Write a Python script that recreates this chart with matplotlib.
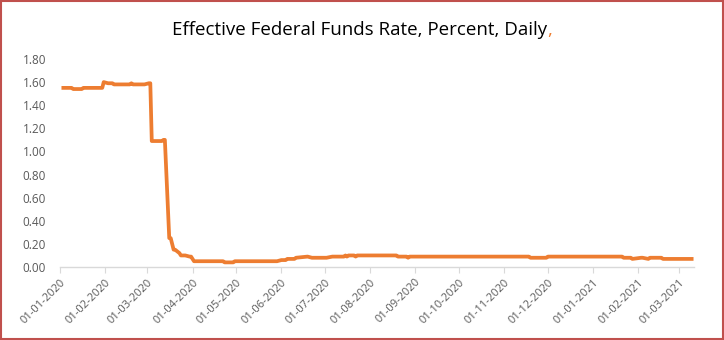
import matplotlib
matplotlib.use("Agg")
import matplotlib.pyplot as plt
from matplotlib.patches import Rectangle
import datetime as dt

# Effective Federal Funds Rate (percent), points at which the daily series changes
dates = [
    "2020-01-02", "2020-01-09", "2020-01-10", "2020-01-16", "2020-01-17", "2020-01-30",
    "2020-01-31", "2020-02-03", "2020-02-06", "2020-02-07", "2020-02-18", "2020-02-19",
    "2020-02-20", "2020-02-28", "2020-03-02", "2020-03-03", "2020-03-04", "2020-03-11",
    "2020-03-12", "2020-03-13", "2020-03-16", "2020-03-17", "2020-03-18", "2020-03-19",
    "2020-03-20", "2020-03-23", "2020-03-24", "2020-03-27", "2020-03-30", "2020-03-31",
    "2020-04-02", "2020-04-22", "2020-04-23", "2020-04-29", "2020-04-30", "2020-05-29",
    "2020-06-01", "2020-06-04", "2020-06-05", "2020-06-10", "2020-06-11", "2020-06-19",
    "2020-06-22", "2020-07-02", "2020-07-06", "2020-07-14", "2020-07-15", "2020-07-16",
    "2020-07-17", "2020-07-21", "2020-07-22", "2020-07-23", "2020-07-24", "2020-08-19",
    "2020-08-20", "2020-08-26", "2020-08-27", "2020-08-28", "2020-11-18", "2020-11-19",
    "2020-11-30", "2020-12-01", "2021-01-21", "2021-01-22", "2021-01-27", "2021-01-28",
    "2021-02-03", "2021-02-04", "2021-02-08", "2021-02-09", "2021-02-17", "2021-02-18",
    "2021-03-11",
]
rates = [
    1.55, 1.55, 1.54, 1.54, 1.55, 1.55,
    1.60, 1.59, 1.59, 1.58, 1.58, 1.59,
    1.58, 1.58, 1.59, 1.59, 1.09, 1.09,
    1.10, 1.10, 0.25, 0.25, 0.20, 0.15,
    0.15, 0.12, 0.10, 0.10, 0.09, 0.09,
    0.05, 0.05, 0.04, 0.04, 0.05, 0.05,
    0.06, 0.06, 0.07, 0.07, 0.08, 0.09,
    0.08, 0.08, 0.09, 0.09, 0.10, 0.09,
    0.10, 0.10, 0.09, 0.10, 0.10, 0.10,
    0.09, 0.09, 0.08, 0.09, 0.09, 0.08,
    0.08, 0.09, 0.09, 0.08, 0.08, 0.07,
    0.08, 0.08, 0.07, 0.08, 0.08, 0.07,
    0.07,
]
tick_dates = ["2020-%02d-01" % m for m in range(1, 13)] + ["2021-01-01", "2021-02-01", "2021-03-01"]
y_ticks = [0.0, 0.2, 0.4, 0.6, 0.8, 1.0, 1.2, 1.4, 1.6, 1.8]
title_text = "Effective Federal Funds Rate, Percent, Daily"

x = [dt.datetime.strptime(d, "%Y-%m-%d") for d in dates]
xt = [dt.datetime.strptime(d, "%Y-%m-%d") for d in tick_dates]

plt.rcParams['font.family'] = ['Open Sans', 'DejaVu Sans']

fig = plt.figure(figsize=(7.24, 3.40), dpi=100)
fig.patch.set_facecolor('white')
fig.add_artist(Rectangle((0.002, 0.003), 0.996, 0.994, transform=fig.transFigure,
                         fill=False, edgecolor='#C0504D', linewidth=1.5))

ax = fig.add_axes([0.0829, 0.2147, 0.876, 0.6118])
orange = '#ED7D31'
ax.plot(x, rates, color=orange, linewidth=2.7, solid_joinstyle='round', solid_capstyle='butt')

ax.set_ylim(0, 1.8)
ax.set_xlim(dt.datetime(2020, 1, 1), dt.datetime(2021, 3, 11, 12))
ax.set_yticks(y_ticks)
ax.set_yticklabels([f"{v:.2f}" for v in y_ticks])
ax.set_xticks(xt)
ax.set_xticklabels([d.strftime("%d-%m-%Y") for d in xt], rotation=45, ha='right',
                   rotation_mode='anchor')

for s in ['top', 'right', 'left']:
    ax.spines[s].set_visible(False)
ax.spines['bottom'].set_color('#D9D9D9')
ax.spines['bottom'].set_linewidth(1.0)
ax.tick_params(axis='y', length=0, pad=10, labelsize=8.5, labelcolor='#595959')
ax.tick_params(axis='x', length=4, color='#D9D9D9', pad=3, labelsize=8, labelcolor='#595959')

fs = 13.5
t = fig.text(0.5, 0.912, title_text, ha='left', va='center', fontsize=fs, color='black')
c = fig.text(0.5, 0.912, ",", ha='left', va='center', fontsize=fs, color=orange)
fig.canvas.draw()
W = fig.bbox.width
w1 = t.get_window_extent().width
w2 = c.get_window_extent().width
x0 = 0.5 - (w1 + w2) / 2 / W
t.set_x(x0)
c.set_x(x0 + w1 / W)
fig.savefig("out.png", dpi=100)
